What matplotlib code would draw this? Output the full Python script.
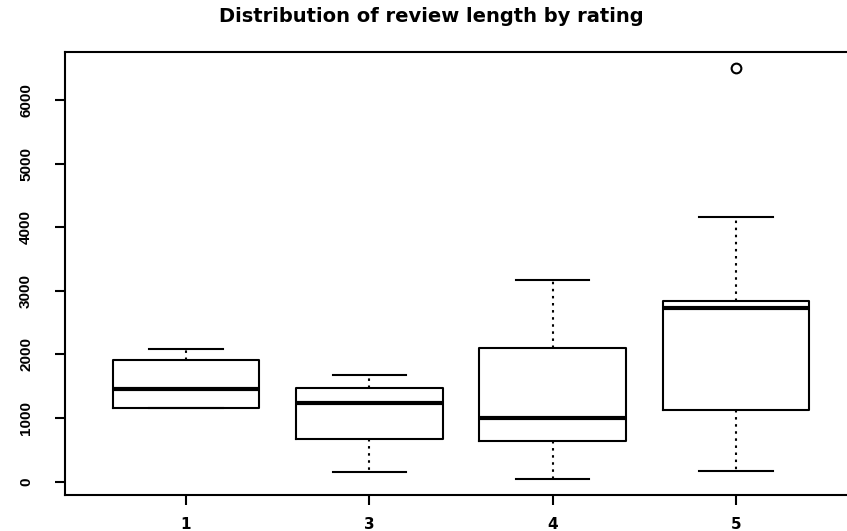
import matplotlib.pyplot as plt

# review length by rating
ratings = ['1', '3', '4', '5']
whisker_low = [1157, 146, 47, 162]
q1 = [1157, 675, 633, 1120]
medians = [1460, 1235, 1000, 2732]
q3 = [1920, 1470, 2099, 2846]
whisker_high = [2083, 1680, 3176, 4165]
outliers = [[], [], [], [6500]]

yticks = [0, 1000, 2000, 3000, 4000, 5000, 6000]

plt.rcParams['font.family'] = ['Liberation Sans', 'DejaVu Sans']

stats = []
for i, r in enumerate(ratings):
    stats.append({'label': r, 'whislo': whisker_low[i], 'q1': q1[i], 'med': medians[i],
                  'q3': q3[i], 'whishi': whisker_high[i], 'fliers': outliers[i]})

fig = plt.figure(figsize=(8.47, 5.31), dpi=100)
ax = fig.add_axes([65 / 847, 36 / 531, 792 / 847, 443 / 531])

ax.bxp(stats, positions=range(1, len(ratings) + 1), widths=0.8, capwidths=0.4,
       boxprops=dict(color='black', linewidth=1.5),
       medianprops=dict(color='black', linewidth=3),
       whiskerprops=dict(color='black', linewidth=1.5, linestyle=(0, (1.2, 2.2))),
       capprops=dict(color='black', linewidth=1.5),
       flierprops=dict(marker='o', markerfacecolor='none', markeredgecolor='black',
                       markersize=7, markeredgewidth=1.5))

ax.set_xlim(0.34, 4.66)
ax.set_ylim(-211, 6758)
ax.set_yticks(yticks)
ax.set_yticklabels([str(t) for t in yticks], rotation=90, va='center')
ax.set_xticks(range(1, len(ratings) + 1))
ax.set_xticklabels(ratings)

for s in ax.spines.values():
    s.set_linewidth(1.5)
ax.tick_params(axis='both', length=7, width=1.5, labelsize=11)
ax.tick_params(axis='y', pad=16)
ax.tick_params(axis='x', pad=9)
for lab in ax.get_yticklabels():
    lab.set_fontweight('bold')
for lab in ax.get_xticklabels():
    lab.set_fontweight('bold')
    lab.set_family(['DejaVu Sans'])

fig.text(431 / 847, 1 - 17 / 531, 'Distribution of review length by rating',
         ha='center', va='center', fontsize=14, fontweight='heavy',
         family=['DejaVu Sans'])

fig.savefig('out.png', dpi=100)
